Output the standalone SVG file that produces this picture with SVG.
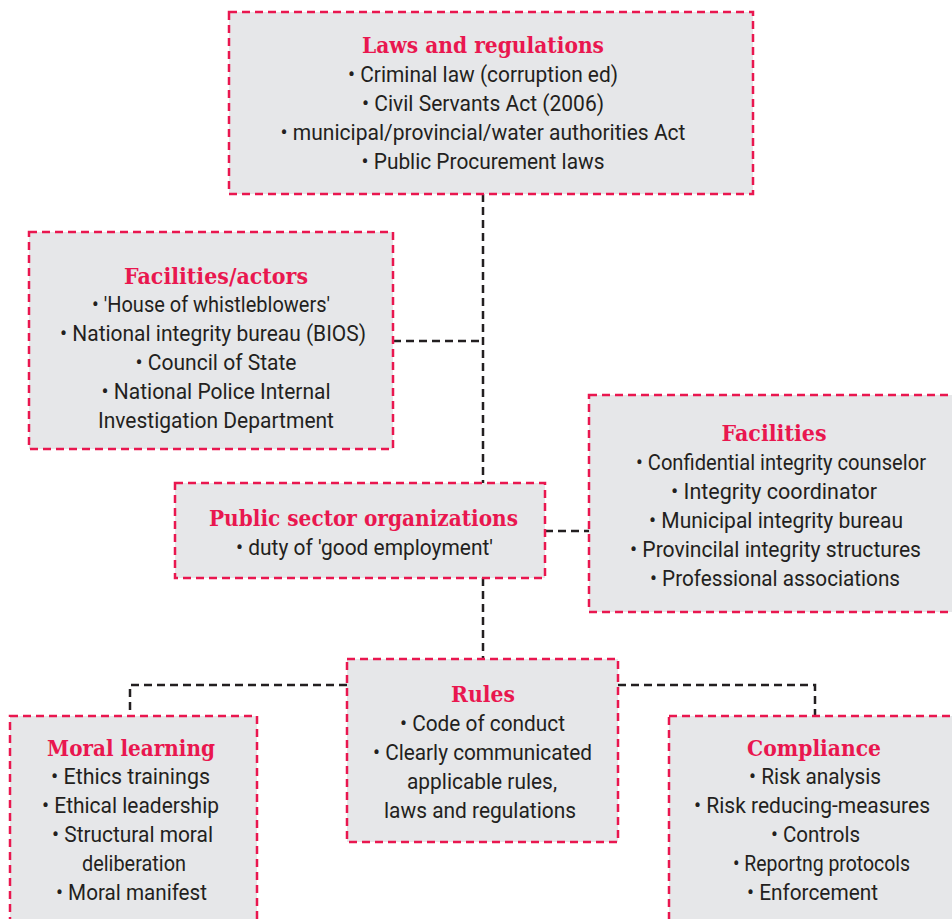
<svg xmlns="http://www.w3.org/2000/svg" width="952" height="919" viewBox="0 0 952 919">
<style>
.box{fill:#e6e7e9;stroke:#e9174f;stroke-width:2.5;stroke-dasharray:8 5}
.con{fill:none;stroke:#231f20;stroke-width:2.5;stroke-dasharray:8 5}
.t{font-family:"DejaVu Serif","Liberation Serif",serif;font-weight:bold;font-size:22px;fill:#e9174f;text-anchor:middle}
.b{font-family:Roboto,"Liberation Sans",sans-serif;font-size:21.5px;fill:#231f20;text-anchor:middle}
</style>
<rect width="952" height="919" fill="#ffffff"/>
<g id="connectors">
<path class="con" d="M483 194 V483"/>
<path class="con" d="M483 578 V659"/>
<path class="con" d="M393 341 H483"/>
<path class="con" d="M545 531 H589"/>
<path class="con" d="M347 685 H130 V716"/>
<path class="con" d="M618 685 H815 V716"/>
</g>
<g id="laws">
<rect class="box" x="229" y="12" width="524" height="182"/>
<text class="t" x="483" y="53" textLength="242" lengthAdjust="spacingAndGlyphs">Laws and regulations</text>
<text class="b" x="483" y="82" textLength="270" lengthAdjust="spacingAndGlyphs">• Criminal law (corruption ed)</text>
<text class="b" x="483" y="111" textLength="242" lengthAdjust="spacingAndGlyphs">• Civil Servants Act (2006)</text>
<text class="b" x="483" y="140" textLength="405" lengthAdjust="spacingAndGlyphs">• municipal/provincial/water authorities Act</text>
<text class="b" x="483" y="169" textLength="243" lengthAdjust="spacingAndGlyphs">• Public Procurement laws</text>
</g>
<g id="facilities-actors">
<rect class="box" x="29" y="232" width="364" height="217"/>
<text class="t" x="216" y="284" textLength="184" lengthAdjust="spacingAndGlyphs">Facilities/actors</text>
<text class="b" x="211" y="312" textLength="238" lengthAdjust="spacingAndGlyphs">• 'House of whistleblowers'</text>
<text class="b" x="213" y="341" textLength="306" lengthAdjust="spacingAndGlyphs">• National integrity bureau (BIOS)</text>
<text class="b" x="216" y="370" textLength="161" lengthAdjust="spacingAndGlyphs">• Council of State</text>
<text class="b" x="216" y="399" textLength="229" lengthAdjust="spacingAndGlyphs">• National Police Internal</text>
<text class="b" x="216" y="428" textLength="236" lengthAdjust="spacingAndGlyphs">Investigation Department</text>
</g>
<g id="facilities">
<rect class="box" x="589" y="395" width="370" height="217"/>
<text class="t" x="774" y="441" textLength="105" lengthAdjust="spacingAndGlyphs">Facilities</text>
<text class="b" x="781" y="470" textLength="290" lengthAdjust="spacingAndGlyphs">• Confidential integrity counselor</text>
<text class="b" x="774" y="499" textLength="206" lengthAdjust="spacingAndGlyphs">• Integrity coordinator</text>
<text class="b" x="776" y="528" textLength="254" lengthAdjust="spacingAndGlyphs">• Municipal integrity bureau</text>
<text class="b" x="775.5" y="557" textLength="291" lengthAdjust="spacingAndGlyphs">• Provincilal integrity structures</text>
<text class="b" x="775" y="586" textLength="250" lengthAdjust="spacingAndGlyphs">• Professional associations</text>
</g>
<g id="public-sector">
<rect class="box" x="175" y="483" width="370" height="95"/>
<text class="t" x="363.5" y="526" textLength="309" lengthAdjust="spacingAndGlyphs">Public sector organizations</text>
<text class="b" x="364.5" y="555" textLength="257" lengthAdjust="spacingAndGlyphs">• duty of 'good employment'</text>
</g>
<g id="rules">
<rect class="box" x="347" y="659" width="271" height="183"/>
<text class="t" x="483" y="702" textLength="64" lengthAdjust="spacingAndGlyphs">Rules</text>
<text class="b" x="482.5" y="731" textLength="165" lengthAdjust="spacingAndGlyphs">• Code of conduct</text>
<text class="b" x="482.5" y="760" textLength="219" lengthAdjust="spacingAndGlyphs">• Clearly communicated</text>
<text class="b" x="482" y="789" textLength="150" lengthAdjust="spacingAndGlyphs">applicable rules,</text>
<text class="b" x="480" y="818" textLength="192" lengthAdjust="spacingAndGlyphs">laws and regulations</text>
</g>
<g id="moral-learning">
<rect class="box" x="10" y="716" width="247" height="215"/>
<text class="t" x="131" y="756" textLength="168" lengthAdjust="spacingAndGlyphs">Moral learning</text>
<text class="b" x="130.5" y="784" textLength="159" lengthAdjust="spacingAndGlyphs">• Ethics trainings</text>
<text class="b" x="130.5" y="813" textLength="177" lengthAdjust="spacingAndGlyphs">• Ethical leadership</text>
<text class="b" x="132.5" y="842" textLength="161" lengthAdjust="spacingAndGlyphs">• Structural moral</text>
<text class="b" x="134" y="871" textLength="104" lengthAdjust="spacingAndGlyphs">deliberation</text>
<text class="b" x="131.5" y="900" textLength="151" lengthAdjust="spacingAndGlyphs">• Moral manifest</text>
</g>
<g id="compliance">
<rect class="box" x="669" y="716" width="290" height="215"/>
<text class="t" x="814" y="756" textLength="134" lengthAdjust="spacingAndGlyphs">Compliance</text>
<text class="b" x="815" y="784" textLength="132" lengthAdjust="spacingAndGlyphs">• Risk analysis</text>
<text class="b" x="812" y="813" textLength="236" lengthAdjust="spacingAndGlyphs">• Risk reducing-measures</text>
<text class="b" x="815.5" y="842" textLength="89" lengthAdjust="spacingAndGlyphs">• Controls</text>
<text class="b" x="821.5" y="871" textLength="177" lengthAdjust="spacingAndGlyphs">• Reportng protocols</text>
<text class="b" x="812.5" y="900" textLength="131" lengthAdjust="spacingAndGlyphs">• Enforcement</text>
</g>
</svg>
